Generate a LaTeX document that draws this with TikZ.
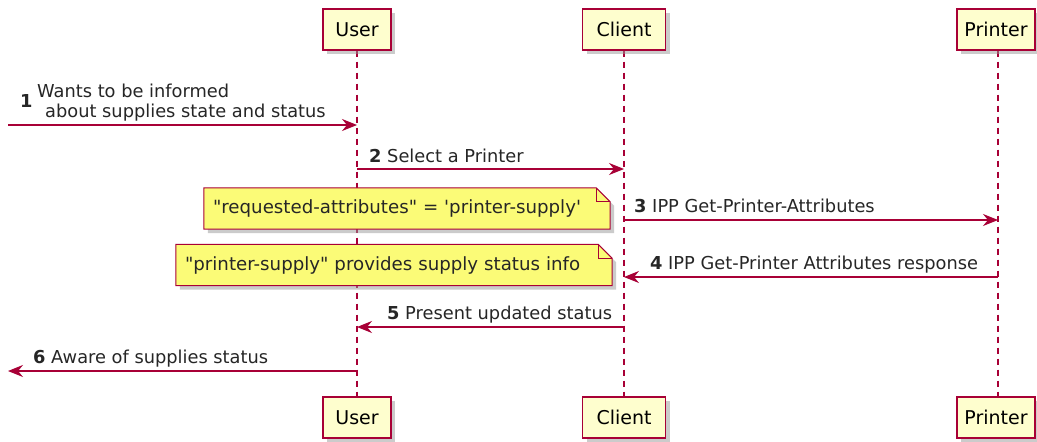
\documentclass[tikz,border=0pt]{standalone}
\usepackage{fontspec}
\newfontfamily\umlfont{DejaVu Sans}
\usetikzlibrary{positioning, arrows.meta, calc, shadows, backgrounds}
\definecolor{umlred}{HTML}{A80036}
\definecolor{partfill}{HTML}{FEFECE}
\definecolor{notefill}{HTML}{FBFB77}

\begin{document}
\begin{tikzpicture}[x=1pt, y=-1pt,
  font={\umlfont\fontsize{17.8}{21}\selectfont}, >={Stealth[length=15pt, width=12pt, inset=5pt]},
  part/.style={draw=umlred, line width=1.2pt, fill=partfill, minimum height=41pt, inner sep=0pt,
    font={\umlfont\fontsize{19}{23}\selectfont},
    drop shadow={shadow xshift=4pt, shadow yshift=-4pt, fill=black!40, opacity=0.5}},
  life/.style={umlred, line width=1.3pt, dash pattern=on 6pt off 5pt},
  msg/.style={umlred, line width=1.1pt, ->},
  lbl/.style={anchor=base west, inner sep=0pt, text=black!85},
  notetxt/.style={minimum height=41pt, inner xsep=9pt, inner ysep=0pt, align=left, text=black!85},
  notebg/.style={draw=umlred, fill=notefill, line width=1pt,
    drop shadow={shadow xshift=4pt, shadow yshift=-4pt, fill=black!40, opacity=0.5}},
]
  \useasboundingbox (0,0) rectangle (1037,442);

  % participants, top and bottom
  \node[part, minimum width=68pt] (ut) at (357,29.5) {User};
  \node[part, minimum width=83pt] (ct) at (624,29.5) {Client};
  \node[part, minimum width=78pt] (pt) at (996,29.5) {Printer};
  \node[part, minimum width=68pt] (ub) at (357,417.5) {User};
  \node[part, minimum width=83pt] (cb) at (624,417.5) {Client};
  \node[part, minimum width=78pt] (pb) at (996,417.5) {Printer};

  \begin{scope}[on background layer]
    \fill[white] (0,0) rectangle (1037,442);
    \draw[life] (ut) -- (ub);
    \draw[life] (ct) -- (cb);
    \draw[life] ([xshift=2pt]pt.south) -- ([xshift=2pt]pb.north);
  \end{scope}

  % notes
  \node[notetxt, text width=388pt] (n1) at (407,208.5) {\fontsize{18.2}{21}\selectfont"requested-attributes" = 'printer-supply'};
  \node[notetxt, text width=418pt] (n2) at (394,265) {\fontsize{18.2}{21}\selectfont"printer-supply" provides supply status info};
  \begin{scope}[on background layer]
    \foreach \n in {n1, n2} {
      \draw[notebg] (\n.south west) -- (\n.north west) -- ([xshift=-14pt]\n.north east)
        -- ([yshift=-14pt]\n.north east) -- (\n.south east) -- cycle;
      \draw[umlred, line width=1pt] ([xshift=-14pt]\n.north east) |- ([yshift=-14pt]\n.north east);
    }
  \end{scope}

  % free ends
  \coordinate (in1) at (8,125);
  \coordinate (out6) at (8,371);

  % messages
  \draw[msg] (in1) -- (ut |- 0,125);
  \node[lbl] (l1n) at (20,107) {\textbf{1}};
  \node[lbl] (l1a) at (37,97) {Wants to be informed};
  \node[lbl] (l1b) at (45,117) {about supplies state and status};

  \draw[msg] (ut |- 0,169) -- (ct |- 0,169);
  \node[lbl] (l2) at (369,162) {\textbf{2} Select a Printer};

  \draw[msg] (ct |- 0,220) -- ([xshift=2pt]pt.south |- 0,220);
  \node[lbl] (l3) at (634,212) {\textbf{3} IPP Get-Printer-Attributes};

  \draw[msg] ([xshift=2pt]pt.south |- 0,277) -- (ct |- 0,277);
  \node[lbl] (l4) at (650,269) {\textbf{4} IPP Get-Printer Attributes response};

  \draw[msg] (ct |- 0,327) -- (ut |- 0,327);
  \node[lbl] (l5) at (387,319) {\textbf{5} Present updated status};

  \draw[msg] (ut |- 0,371) -- (out6);
  \node[lbl] (l6) at (33,363) {\textbf{6} Aware of supplies status};
\end{tikzpicture}
\end{document}
